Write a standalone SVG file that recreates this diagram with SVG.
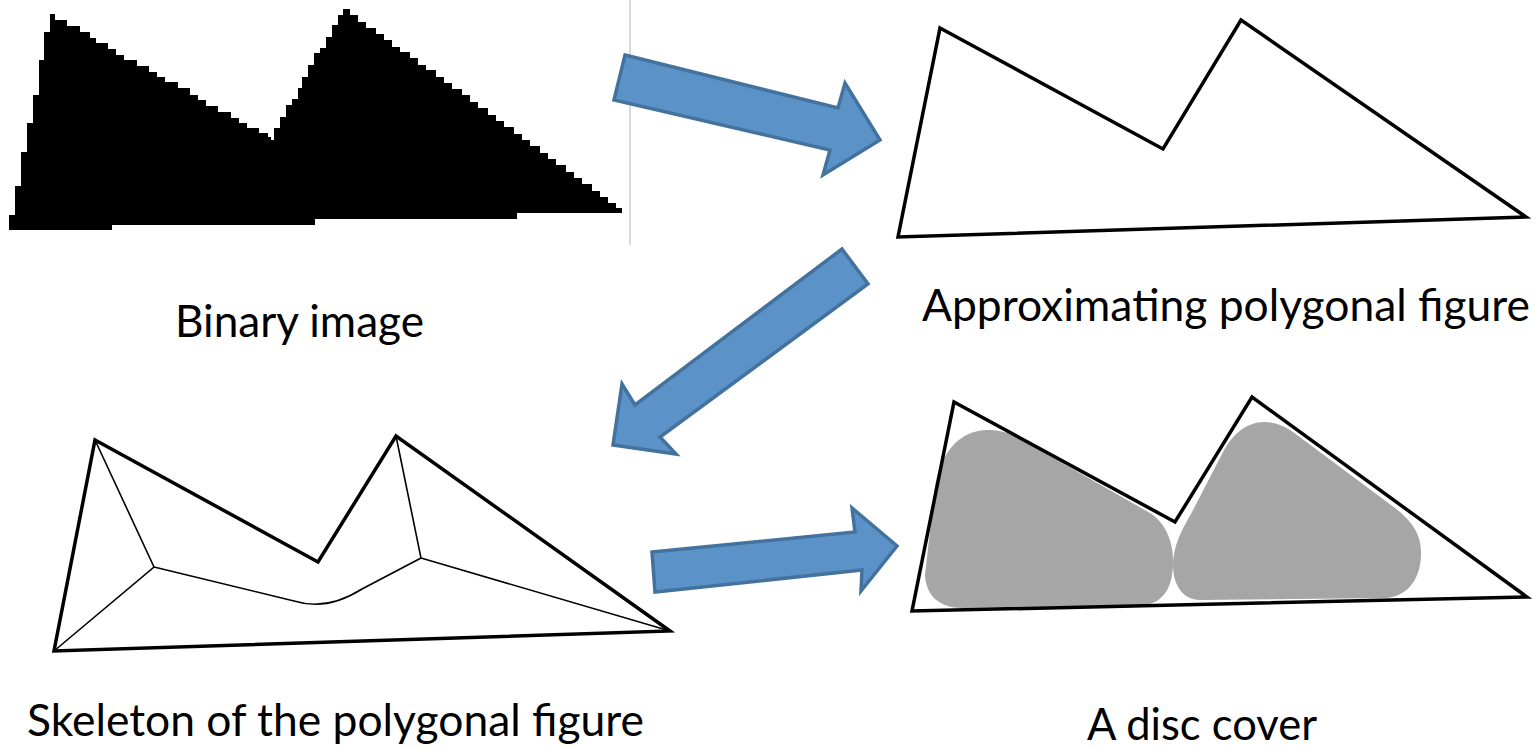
<svg xmlns="http://www.w3.org/2000/svg" width="1537" height="748" viewBox="0 0 1537 748">
<style>
.poly{fill:none;stroke:#000;stroke-width:3.5;stroke-linejoin:miter}
.skel{fill:none;stroke:#000;stroke-width:1.6}
.arrow{fill:#5b93c8;stroke:#44729f;stroke-width:3.5;stroke-linejoin:miter}
.blob{fill:#a6a6a6}
.cap{font-family:Lato,"Liberation Sans",sans-serif;font-size:44px;fill:#000}
</style>
<rect width="1537" height="748" fill="#fff"/>
<g id="binary-image">
<line x1="630" y1="0" x2="630" y2="245" stroke="#cccccc" stroke-width="1.5"/>
<path fill="#000" d="M9,230 V215 H15 V186 H21 V152 H27 V123 H33 V95 H39 V60 H44 V32 H50 V14 H55 V20
H67 V26 H80 V32 H90 V38 H96 V43 H108 V49 H116 V55 H124 V60 H137 V66 H149 V72 H157 V77 H165 V82 H178 V88 H190 V95 H198 V100 H206 V106 H218 V112 H231 V118 H239 V123 H247 V128 H259 V133 H268 V137 H271 V140
H274 V128 H280 V117 H286 V105 H292 V99 H298 V88 H302 V77 H308 V65 H314 V53 H320 V48 H326 V37 H332 V25 H338 V15 H343 V9 H350 V15
H358 V22 H366 V28 H376 V34 H384 V40 H392 V47 H400 V52 H410 V58 H418 V65 H426 V70 H436 V77 H444 V83 H452 V89 H462 V95 H470 V102 H478 V108 H488 V115 H496 V121 H504 V127 H514 V134 H522 V140 H530 V146 H540 V153 H548 V159 H556 V165 H566 V172 H574 V178 H582 V184 H592 V191 H600 V197 H608 V203 H616 V208 H622 V213
H517 V219 H315 V225 H112 V230 Z"/>
<text class="cap" x="175" y="337" textLength="249" lengthAdjust="spacingAndGlyphs">Binary image</text>
</g>
<g id="approximating-polygon">
<polygon class="poly" points="940,28 1163,149 1241,20 1526,217 898,237"/>
<text class="cap" x="922" y="321" textLength="608" lengthAdjust="spacingAndGlyphs">Approximating polygonal figure</text>
</g>
<g id="skeleton">
<polygon class="poly" points="95,440 318,562 396,436 670,631 54,651"/>
<path class="skel" d="M95,440 L154,567 L54,651 M154,567 L294,601 C310,606 332,608 362,589 L421,558 L396,436 M421,558 L670,631"/>
<text class="cap" x="27" y="736" textLength="617" lengthAdjust="spacingAndGlyphs">Skeleton of the polygonal figure</text>
</g>
<g id="disc-cover">
<path class="blob" d="M988,430 C1000,430 1010,433 1020,439 L1150,513 C1166,523 1174,543 1173,565 C1172,590 1162,604 1140,606 L962,608 C940,608 926,596 925,575 L934,495 C938,455 958,430 988,430 Z"/>
<path class="blob" d="M1264,422 C1275,422 1285,426 1293,432 L1395,508 C1414,522 1422,537 1421,556 C1420,582 1405,597 1385,598 L1200,600 C1183,600 1173,585 1173,565 C1173,545 1183,528 1192,512 L1222,454 C1232,434 1247,422 1264,422 Z"/>
<polygon class="poly" points="954,402 1175,522 1252,397 1527,597 912,611"/>
<text class="cap" x="1087" y="740" textLength="230" lengthAdjust="spacingAndGlyphs">A disc cover</text>
</g>
<g id="connectors">
<polygon class="arrow" points="625,55 838,108 845,83 880,140 823,175 830,150 614,100"/>
<polygon class="arrow" points="842,249 868,284 660,437 676,454 613,445 622,384 635,405"/>
<polygon class="arrow" points="652,552 855,532 852,508 897,546 861,591 862,570 655,592"/>
</g>
</svg>
